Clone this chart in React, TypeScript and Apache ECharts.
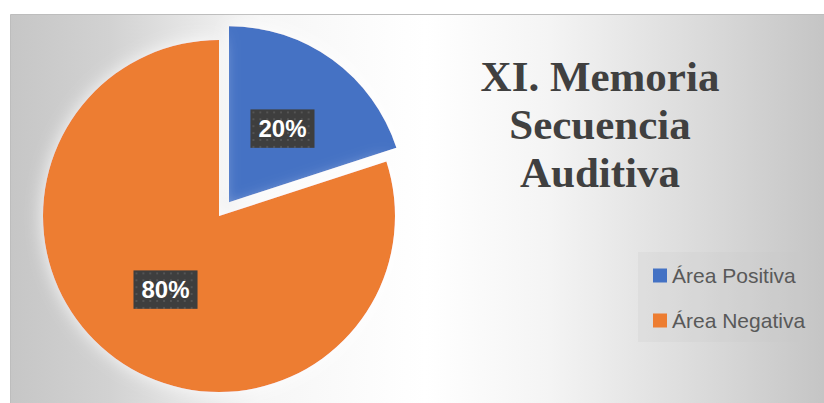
import React, { useEffect, useRef } from "react";
import * as echarts from "echarts";

const categories = ["Área Positiva", "Área Negativa"];
const values = [20, 80];
const colors = ["#4472C4", "#ED7D31"];
const titleLines = ["XI. Memoria", "Secuencia", "Auditiva"];

function makeDots(w: number, h: number): string {
  const c = document.createElement("canvas");
  c.width = w;
  c.height = h;
  const ctx = c.getContext("2d");
  if (!ctx) return "";
  ctx.fillStyle = "#3e3e3e";
  ctx.fillRect(0, 0, w, h);
  ctx.fillStyle = "#545454";
  for (let y = 2; y < h; y += 7) {
    for (let x = 2; x < w; x += 7) {
      ctx.fillRect(x, y, 2, 2);
    }
  }
  return c.toDataURL();
}

export default function App() {
  const ref = useRef<HTMLDivElement>(null);
  useEffect(() => {
    if (!ref.current) return;
    const chart = echarts.init(ref.current, null, { renderer: "svg" });
    const dots = makeDots(65, 39);
    chart.setOption({
      animation: false,
      graphic: [
        {
          type: "rect",
          z: -10,
          silent: true,
          shape: { x: 10.5, y: 14.5, width: 830, height: 400 },
          style: {
            fill: {
              type: "linear",
              x: 0,
              y: 0,
              x2: 1,
              y2: 0,
              colorStops: [
                { offset: 0, color: "#c6c6c6" },
                { offset: 0.12, color: "#d2d2d2" },
                { offset: 0.3, color: "#f6f6f6" },
                { offset: 0.5, color: "#ffffff" },
                { offset: 0.65, color: "#f4f4f4" },
                { offset: 0.85, color: "#d8d8d8" },
                { offset: 1, color: "#c2c2c2" },
              ],
            },
            stroke: "#bdbdbd",
            lineWidth: 1,
          },
        },
        {
          type: "rect",
          z: -5,
          silent: true,
          shape: { x: 638, y: 252, width: 183, height: 90 },
          style: { fill: "rgba(200,200,200,0.22)" },
        },
        {
          type: "text",
          z: 10,
          x: 600,
          y: 52,
          style: {
            text: titleLines.join("\n"),
            font: 'bold 43px "Liberation Serif"',
            fill: "#404040",
            align: "center",
            verticalAlign: "top",
            lineHeight: 48,
          },
        },
      ],
      legend: {
        orient: "vertical",
        left: 653,
        top: 265,
        padding: 0,
        itemWidth: 14,
        itemHeight: 14,
        itemGap: 24,
        icon: "rect",
        selectedMode: false,
        data: categories,
        textStyle: {
          fontFamily: '"Liberation Sans"',
          fontSize: 21,
          color: "#595959",
        },
      },
      series: [
        {
          type: "pie",
          center: [219, 216],
          radius: 176,
          startAngle: 90,
          clockwise: true,
          selectedMode: "single",
          selectedOffset: 17,
          emphasis: { disabled: true },
          itemStyle: {
            borderWidth: 0,
            shadowBlur: 18,
            shadowColor: "rgba(255,255,255,0.9)",
          },
          label: {
            show: true,
            position: "inside",
            formatter: "{d}%",
            fontFamily: '"Liberation Sans"',
            fontWeight: "bold",
            fontSize: 24,
            color: "#ffffff",
            lineHeight: 21,
            overflow: "none",
            padding: [9, 8, 9, 8],
            backgroundColor: dots ? { image: dots } : "#3e3e3e",
            shadowBlur: 6,
            shadowOffsetX: 3,
            shadowOffsetY: 4,
            shadowColor: "rgba(0,0,0,0.45)",
          },
          labelLine: { show: false },
          data: categories.map((name, i) => ({
            name,
            value: values[i],
            selected: i === 0,
            itemStyle: { color: colors[i] },
          })),
        },
      ],
    });
    return () => chart.dispose();
  }, []);
  return (
    <div
      ref={ref}
      style={{ position: "fixed", left: 0, top: 0, width: 824, height: 403, background: "#ffffff" }}
    />
  );
}
